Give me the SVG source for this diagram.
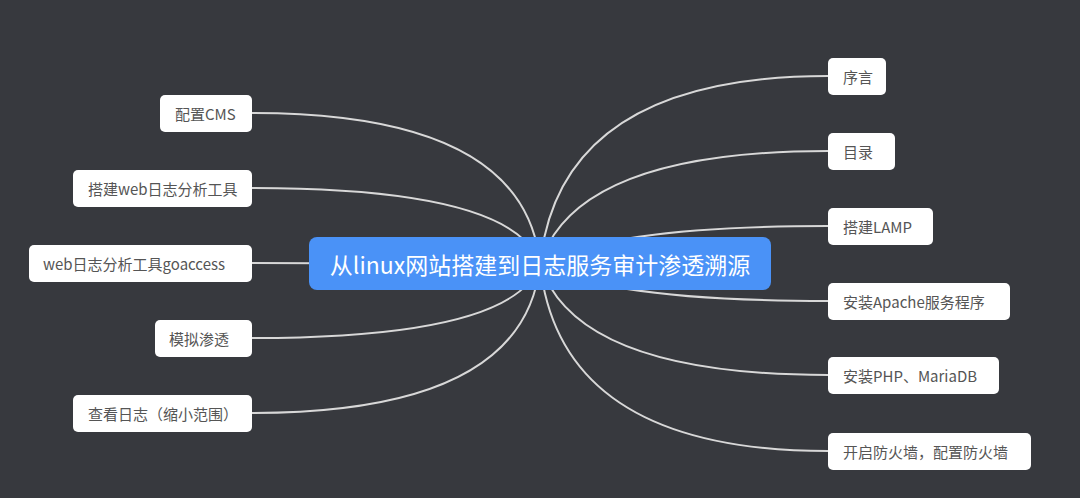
<svg xmlns="http://www.w3.org/2000/svg" width="1080" height="498" viewBox="0 0 1080 498">
<style>
.bg{fill:#37393e}
.link{fill:none;stroke:#d8d8d8;stroke-width:2}
.box{fill:#ffffff}
.lbl{font-family:"Noto Sans CJK SC","Microsoft YaHei",sans-serif;font-size:15px;fill:#555555;dominant-baseline:central}
.root{fill:#4a92f7}
.rootlbl{font-family:"Noto Sans CJK SC","Microsoft YaHei",sans-serif;font-size:23px;fill:#ffffff;text-anchor:middle;dominant-baseline:central}
</style>
<rect class="bg" x="0" y="0" width="1080" height="498"/>
<g id="connectors">
<path class="link" d="M540 264 Q525 113 252 113"/>
<path class="link" d="M540 264 Q515 188 252 188"/>
<path class="link" d="M540 264 L252 263"/>
<path class="link" d="M540 264 Q515 338 252 338"/>
<path class="link" d="M540 264 Q525 413 252 413"/>
<path class="link" d="M540 264 Q560 76 828 76"/>
<path class="link" d="M540 264 Q575 151 828 151"/>
<path class="link" d="M540 264 Q610 226 828 226"/>
<path class="link" d="M540 264 Q610 301 828 301"/>
<path class="link" d="M540 264 Q575 375 828 375"/>
<path class="link" d="M540 264 Q560 451 828 451"/>
</g>
<g id="root">
<rect class="root" x="309" y="237" width="462" height="53" rx="8"/>
<text class="rootlbl" x="540" y="264">从linux网站搭建到日志服务审计渗透溯源</text>
</g>
<g id="n-cms">
<rect class="box" x="160" y="95" width="92" height="37" rx="5"/>
<text class="lbl" x="175" y="113.5">配置CMS</text>
</g>
<g id="n-webtool">
<rect class="box" x="73" y="170" width="179" height="37" rx="5"/>
<text class="lbl" x="88" y="188.5">搭建web日志分析工具</text>
</g>
<g id="n-goaccess">
<rect class="box" x="29" y="245" width="223" height="37" rx="5"/>
<text class="lbl" x="43" y="263.5">web日志分析工具goaccess</text>
</g>
<g id="n-pentest">
<rect class="box" x="155" y="320" width="97" height="37" rx="5"/>
<text class="lbl" x="169" y="338.5">模拟渗透</text>
</g>
<g id="n-logs">
<rect class="box" x="73" y="395" width="179" height="37" rx="5"/>
<text class="lbl" x="88" y="413.5">查看日志（缩小范围）</text>
</g>
<g id="n-preface">
<rect class="box" x="828" y="58" width="58" height="37" rx="5"/>
<text class="lbl" x="843" y="76.5">序言</text>
</g>
<g id="n-toc">
<rect class="box" x="828" y="133" width="67" height="37" rx="5"/>
<text class="lbl" x="843" y="151.5">目录</text>
</g>
<g id="n-lamp">
<rect class="box" x="828" y="208" width="105" height="37" rx="5"/>
<text class="lbl" x="843" y="226.5">搭建LAMP</text>
</g>
<g id="n-apache">
<rect class="box" x="828" y="283" width="182" height="37" rx="5"/>
<text class="lbl" x="843" y="301.5">安装Apache服务程序</text>
</g>
<g id="n-php">
<rect class="box" x="828" y="357" width="171" height="37" rx="5"/>
<text class="lbl" x="843" y="375.5">安装PHP、MariaDB</text>
</g>
<g id="n-firewall">
<rect class="box" x="828" y="433" width="203" height="37" rx="5"/>
<text class="lbl" x="843" y="451.5">开启防火墙，配置防火墙</text>
</g>
</svg>
